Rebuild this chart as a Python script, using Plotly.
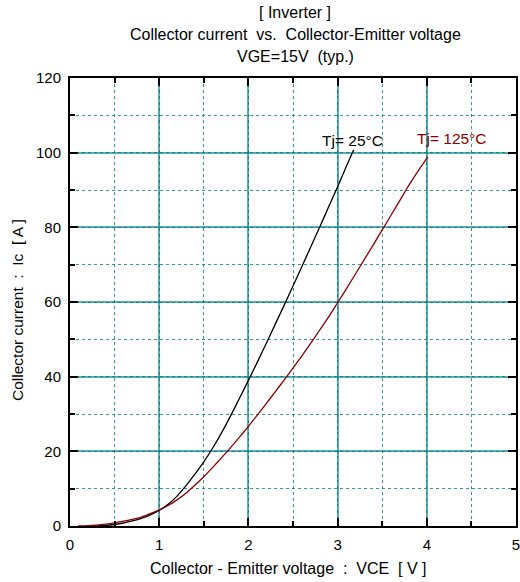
import plotly.graph_objects as go

# Data
vce_25 = [0.2, 0.3, 0.4, 0.5, 0.6, 0.7, 0.8, 0.9, 1.0, 1.1, 1.2, 1.3, 1.4, 1.5, 1.6, 1.7, 1.8, 1.9, 2.0,
          2.1, 2.2, 2.3, 2.4, 2.5, 2.6, 2.7, 2.8, 2.9, 3.0, 3.1, 3.18]
ic_25 = [0.0, 0.05, 0.15, 0.4, 0.8, 1.35, 2.05, 3.0, 4.2, 5.8, 8.0, 10.8, 13.9, 17.2, 20.9, 25.0, 29.5, 34.2, 39.0,
         43.9, 48.9, 54.0, 59.1, 64.3, 69.5, 74.8, 80.1, 85.5, 90.9, 96.4, 100.8]

vce_125 = [0.09, 0.2, 0.3, 0.4, 0.5, 0.6, 0.7, 0.8, 0.9, 1.0, 1.1, 1.2, 1.3, 1.4, 1.5, 1.6, 1.7, 1.8, 1.9, 2.0,
           2.1, 2.2, 2.3, 2.4, 2.5, 2.6, 2.7, 2.8, 2.9, 3.0, 3.1, 3.2, 3.3, 3.4, 3.5, 3.6, 3.7, 3.8, 3.9, 4.01]
ic_125 = [0.0, 0.1, 0.25, 0.5, 0.85, 1.3, 1.8, 2.4, 3.3, 4.3, 5.5, 7.0, 8.8, 10.9, 13.2, 15.7, 18.3, 21.0, 23.8, 26.7,
          29.7, 32.8, 35.9, 39.1, 42.3, 45.6, 49.0, 52.5, 56.0, 59.8, 63.6, 67.5, 71.4, 75.3, 79.3, 83.3, 87.3, 91.3, 95.0, 98.8]

x_ticks = [0, 1, 2, 3, 4, 5]
y_ticks = [0, 20, 40, 60, 80, 100, 120]

series_names = ["Tj= 25°C", "Tj= 125°C"]
series_colors = ["#000000", "#8b0000"]

FONT = "Liberation Sans, Arial, sans-serif"
GRID = "rgba(0,128,128,0.65)"

fig = go.Figure()
fig.add_trace(go.Scatter(x=vce_25, y=ic_25, mode="lines", line=dict(color=series_colors[0], width=1.3, shape="spline", smoothing=0.6), showlegend=False))
fig.add_trace(go.Scatter(x=vce_125, y=ic_125, mode="lines", line=dict(color=series_colors[1], width=1.3, shape="spline", smoothing=0.6), showlegend=False))

axis_common = dict(
    showline=True, linecolor="black", linewidth=2, mirror="ticks",
    ticks="inside", ticklen=8, tickwidth=2, tickcolor="black",
    showgrid=True, gridcolor=GRID, gridwidth=1.5,
    zeroline=False, automargin=False, ticklabeloverflow="allow",
    tickfont=dict(family=FONT, size=15, color="black"),
)

fig.update_xaxes(range=[0, 5], tickvals=x_ticks, ticktext=[str(v) for v in x_ticks],
                 minor=dict(dtick=0.5, tick0=0, ticks="inside", ticklen=5, tickcolor="black",
                            showgrid=True, gridcolor="rgba(0,128,128,0.8)", griddash="dot", gridwidth=1),
                 ticklabelstandoff=4, **axis_common)
fig.update_yaxes(range=[0, 120], tickvals=y_ticks, ticktext=[str(v) for v in y_ticks],
                 minor=dict(dtick=10, tick0=0, ticks="inside", ticklen=5, tickcolor="black",
                            showgrid=True, gridcolor="rgba(0,128,128,0.8)", griddash="dot", gridwidth=1),
                 ticklabelstandoff=4, **axis_common)

nb = "\u00a0"
titles = ["[ Inverter ]",
          f"Collector current{nb*2}vs.{nb*2}Collector-Emitter voltage",
          f"VGE=15V{nb*2}(typ.)"]
title_y = [1.147, 1.098, 1.049]
annotations = []
for t, yy in zip(titles, title_y):
    annotations.append(dict(text=t, x=0.5045, y=yy, xref="paper", yref="paper", showarrow=False,
                            xanchor="center", yanchor="middle", font=dict(family=FONT, size=16, color="black")))
annotations.append(dict(text=f"Collector - Emitter voltage{nb*2}:{nb*2}VCE{nb*2}[ V ]", x=0.491, y=-0.094,
                        xref="paper", yref="paper", showarrow=False, xanchor="center", yanchor="middle",
                        font=dict(family=FONT, size=16, color="black")))
annotations.append(dict(text=f"Collector current{nb*2}:{nb*2}Ic{nb*2}[ A ]", x=-0.119, y=0.482,
                        xref="paper", yref="paper", showarrow=False, xanchor="center", yanchor="middle",
                        textangle=-90, font=dict(family=FONT, size=15.5, color="black")))
label_pos = [(3.167, 103.2), (4.28, 103.9)]
for name, col, (lx, ly) in zip(series_names, series_colors, label_pos):
    annotations.append(dict(text=name, x=lx, y=ly, xref="x", yref="y", showarrow=False,
                            xanchor="center", yanchor="middle", font=dict(family=FONT, size=15.5, color=col)))

fig.update_layout(
    width=520, height=582,
    margin=dict(l=70, r=4, t=78, b=56),
    paper_bgcolor="white", plot_bgcolor="white",
    annotations=annotations,
)

fig.write_html("out.html")
